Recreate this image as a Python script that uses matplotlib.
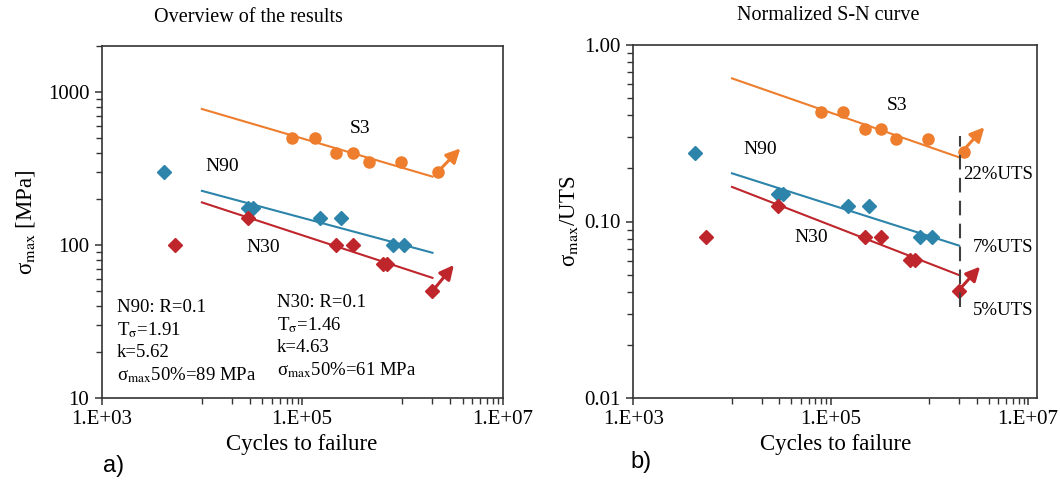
import matplotlib
matplotlib.use('Agg')
import matplotlib.pyplot as plt
from matplotlib.ticker import FixedLocator, LogLocator, NullFormatter

plt.rcParams['font.family'] = ['Liberation Serif', 'DejaVu Serif']
plt.rcParams['mathtext.fontset'] = 'stix'

# ---- data ----
# S3 (circles)
s3_N = [8.0e4, 1.33e5, 2.2e5, 3.2e5, 4.6e5, 9.7e5, 2.25e6]
s3_smax = [500, 500, 400, 400, 350, 350, 300]
s3_norm = [0.419, 0.419, 0.333, 0.333, 0.292, 0.292, 0.249]

# N90 (blue diamonds)
n90_N = [4.2e3, 2.9e4, 3.25e4, 1.5e5, 2.45e5, 8.0e5, 1.05e6]
n90_smax = [300, 175, 175, 150, 150, 100, 100]
n90_norm = [0.245, 0.143, 0.143, 0.123, 0.123, 0.082, 0.082]

# N30 (red diamonds)
n30_N = [5.4e3, 2.9e4, 2.2e5, 3.25e5, 6.4e5, 7.1e5, 2.0e6]
n30_smax = [100, 150, 100, 100, 75, 75, 50]
n30_norm = [0.082, 0.123, 0.082, 0.082, 0.0605, 0.0605, 0.0405]

# fitted S-N lines
fit_N = [1e4, 2e6]
s3_fit = [775, 280]
n90_fit = [226, 89]
n30_fit = [190, 61]
s3_fit_norm = [0.647, 0.231]
n90_fit_norm = [0.1875, 0.073]
n30_fit_norm = [0.157, 0.0497]

# run-out arrows (start point, arrow tip)
s3_runout = [(2.25e6, 300), (3.8e6, 428)]
n30_runout = [(2.0e6, 50), (3.27e6, 74)]
s3_runout_norm = [(2.15e6, 0.249), (3.6e6, 0.342)]
n30_runout_norm = [(1.96e6, 0.0405), (3.26e6, 0.0555)]

# 2e6 cycles marker in normalized plot
limit_N = 2.05e6
limit_range = [0.0329, 0.305]
limit_labels = ['22%UTS', '7%UTS', '5%UTS']
limit_label_x = [2.2e6, 2.75e6, 2.75e6]
limit_label_y = [0.185, 0.0715, 0.0315]

x_ticks = [1e3, 1e5, 1e7]
x_ticklabels = ['1.E+03', '1.E+05', '1.E+07']

c_s3 = '#EE7D2D'
c_n90 = '#2C84AA'
c_n30 = '#BF262C'
c_axis = '#333333'


def style_axes(ax, xmax, ylim, yticks, yticklabels):
    ax.set_xscale('log')
    ax.set_yscale('log')
    ax.set_xlim(1e3, xmax)
    ax.set_ylim(*ylim)
    ax.xaxis.set_major_locator(FixedLocator(x_ticks))
    ax.set_xticklabels(x_ticklabels)
    minors = [k * 1e4 for k in range(1, 10)] + [k * 1e6 for k in range(1, 10)]
    ax.xaxis.set_minor_locator(FixedLocator(minors))
    ax.xaxis.set_minor_formatter(NullFormatter())
    ax.yaxis.set_major_locator(FixedLocator(yticks))
    ax.set_yticklabels(yticklabels)
    ax.yaxis.set_minor_locator(LogLocator(base=10, subs=range(2, 10)))
    ax.yaxis.set_minor_formatter(NullFormatter())
    ax.tick_params(which='major', direction='out', length=5, width=1.1,
                   color=c_axis, labelsize=15, pad=4)
    ax.tick_params(which='minor', direction='out', length=4, width=1.0,
                   color=c_axis)
    for sp in ax.spines.values():
        sp.set_color(c_axis)
        sp.set_linewidth(1.2)
    ax.set_xlabel('Cycles to failure', fontsize=16.5, labelpad=3)


def runout(ax, pts, color):
    ax.annotate('', xy=pts[1], xytext=pts[0],
                arrowprops=dict(arrowstyle='-|>', color=color, lw=2.2,
                                mutation_scale=21, shrinkA=0, shrinkB=0))


fig = plt.figure(figsize=(10.6, 4.82), dpi=100)
ax1 = fig.add_axes([101.7 / 1060, 1 - 398 / 482, 400.8 / 1060, 352 / 482])
ax2 = fig.add_axes([633.3 / 1060, 1 - 398 / 482, 403.7 / 1060, 353 / 482])

# ---- a) overview ----
ax1.plot(fit_N, s3_fit, color=c_s3, lw=1.5)
ax1.plot(fit_N, n90_fit, color=c_n90, lw=1.5)
ax1.plot(fit_N, n30_fit, color=c_n30, lw=1.5)
ax1.plot(s3_N, s3_smax, 'o', color=c_s3, ms=8, ls='none')
ax1.plot(n90_N, n90_smax, 'D', color=c_n90, ms=7.2, ls='none')
ax1.plot(n30_N, n30_smax, 'D', color=c_n30, ms=7.2, ls='none')
runout(ax1, s3_runout, c_s3)
runout(ax1, n30_runout, c_n30)

ax1.text(3.78e5, 582, 'S3', fontsize=14, ha='center', va='center')
ax1.text(1.58e4, 328, 'N90', fontsize=14, ha='center', va='center')
ax1.text(4.1e4, 97, 'N30', fontsize=14, ha='center', va='center')

block1 = ['N90: R=0.1', r'T$_{\mathrm{σ}}$=1.91', 'k=5.62',
          r'σ$_{\mathrm{max}}$50%=89 MPa']
block2 = ['N30: R=0.1', r'T$_{\mathrm{σ}}$=1.46', 'k=4.63',
          r'σ$_{\mathrm{max}}$50%=61 MPa']
for i, line in enumerate(block1):
    ax1.text(0.038, 0.257 - i * 0.064, line, transform=ax1.transAxes,
             fontsize=13.5, ha='left', va='center')
for i, line in enumerate(block2):
    ax1.text(0.437, 0.271 - i * 0.064, line, transform=ax1.transAxes,
             fontsize=13.5, ha='left', va='center')

style_axes(ax1, 1e7, (10, 2000), [10, 100, 1000], ['10', '100', '1000'])
ax1.set_ylabel(r'σ$_{\mathrm{max}}$ [MPa]', fontsize=16.5, labelpad=8)

# ---- b) normalized ----
ax2.plot(fit_N, s3_fit_norm, color=c_s3, lw=1.5)
ax2.plot(fit_N, n90_fit_norm, color=c_n90, lw=1.5)
ax2.plot(fit_N, n30_fit_norm, color=c_n30, lw=1.5)
ax2.plot(s3_N, s3_norm, 'o', color=c_s3, ms=8, ls='none')
ax2.plot(n90_N, n90_norm, 'D', color=c_n90, ms=7.2, ls='none')
ax2.plot(n30_N, n30_norm, 'D', color=c_n30, ms=7.2, ls='none')
runout(ax2, s3_runout_norm, c_s3)
runout(ax2, n30_runout_norm, c_n30)
ax2.plot([limit_N, limit_N], limit_range, color='#404040', lw=1.5,
         ls=(0, (7, 4)))

ax2.text(4.65e5, 0.457, 'S3', fontsize=14, ha='center', va='center')
ax2.text(1.92e4, 0.256, 'N90', fontsize=14, ha='center', va='center')
ax2.text(6.4e4, 0.0813, 'N30', fontsize=14, ha='center', va='center')
for lab, xv, yv in zip(limit_labels, limit_label_x, limit_label_y):
    ax2.text(xv, yv, lab, fontsize=13.5, ha='left', va='center')

style_axes(ax2, 1.23e7, (0.01, 1.0), [0.01, 0.1, 1.0],
           ['0.01', '0.10', '1.00'])
ax2.set_ylabel(r'σ$_{\mathrm{max}}$/UTS', fontsize=16.5, labelpad=3)

# titles and panel letters
fig.text(248 / 1060, 1 - 18 / 482, 'Overview of the results', fontsize=14.5,
         ha='center', va='center')
fig.text(828 / 1060, 1 - 15 / 482, 'Normalized S-N curve', fontsize=14.5,
         ha='center', va='center')
fig.text(114 / 1060, 1 - 466 / 482, 'a)', fontsize=17, ha='center',
         va='center', family='Liberation Sans')
fig.text(641 / 1060, 1 - 462 / 482, 'b)', fontsize=17, ha='center',
         va='center', family='Liberation Sans')

fig.savefig('out.png', dpi=100)
